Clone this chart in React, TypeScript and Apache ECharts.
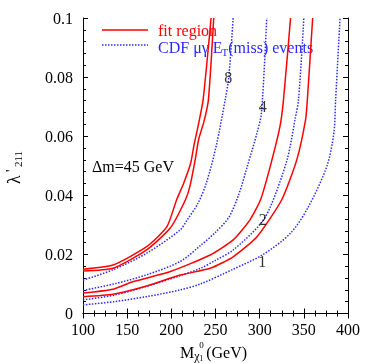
import React, { useEffect, useRef } from "react";
import * as echarts from "echarts";

// ---- data (mass in GeV, lambda'_211) ----
const fitA: [number, number][] = [
  [100, 0.0150], [134, 0.0164], [172, 0.0226], [195, 0.0294], [206, 0.0385], [214, 0.0441],
  [222, 0.0510], [226, 0.0575], [230, 0.0630], [236, 0.0724], [245, 0.1],
];
const fitB: [number, number][] = [
  [100, 0.0144], [134, 0.0153], [172, 0.0215], [199, 0.0290], [216, 0.0385], [221, 0.0430],
  [227, 0.0520], [231, 0.0590], [237, 0.0650], [242, 0.0724], [248, 0.1],
];
const fitC: [number, number][] = [
  [100, 0.0069], [134, 0.0082], [157, 0.0108], [199, 0.0142], [244, 0.0198], [270, 0.0249],
  [289, 0.0317], [301, 0.0385], [312, 0.0498], [323, 0.0633], [327, 0.0724], [335, 0.1],
];
const fitD: [number, number][] = [
  [100, 0.0057], [134, 0.0065], [172, 0.0093], [210, 0.0130], [244, 0.0153], [270, 0.0192],
  [297, 0.0260], [325, 0.0385], [342, 0.0520], [352, 0.0656], [354, 0.0724], [360, 0.1],
];
const cdf8: [number, number][] = [
  [100, 0.0113], [134, 0.0148], [172, 0.0204], [210, 0.0283], [218, 0.0317], [230, 0.0372],
  [240, 0.0445], [251, 0.0570], [261, 0.0724], [265, 0.080], [270, 0.1],
];
const cdf4: [number, number][] = [
  [100, 0.0078], [135, 0.0100], [172, 0.0131], [210, 0.0176], [233, 0.0230], [250, 0.0275],
  [265, 0.0325], [276, 0.0400], [286, 0.0498], [297, 0.0611], [302, 0.0679], [308, 0.1],
];
const cdf2: [number, number][] = [
  [100, 0.0046], [135, 0.0062], [170, 0.0090], [210, 0.0128], [233, 0.0153], [250, 0.0180],
  [270, 0.0215], [300, 0.0300], [312, 0.0360], [331, 0.0520], [340, 0.0656], [344, 0.0724], [350, 0.1],
];
const cdf1: [number, number][] = [
  [100, 0.0029], [135, 0.0040], [172, 0.0057], [210, 0.0080], [233, 0.0100], [270, 0.0150],
  [304, 0.0200], [335, 0.0272], [355, 0.0360], [376, 0.0498], [384, 0.0611], [386, 0.0724], [391, 0.1],
];
const contourLabels = ["8", "4", "2", "1"];
const contourLabelPos: [number, number][] = [[264.3, 0.080], [303.5, 0.0700], [303.5, 0.0318], [303, 0.0176]];

const SERIF = "Liberation Serif";
const RED = "#ff0000";
const BLUE = "#2a2aff";

function measure(text: string, size: number): number {
  const c = document.createElement("canvas").getContext("2d");
  if (!c) return text.length * size * 0.5;
  c.font = `${size}px "Liberation Serif"`;
  return c.measureText(text).width;
}

function txt(x: number, y: number, text: string, size: number, fill = "#000", lh?: number) {
  return {
    type: "text",
    x,
    y,
    silent: true,
    style: {
      text,
      fill,
      fontSize: size,
      fontFamily: SERIF,
      lineHeight: lh ?? size,
      align: "left",
      verticalAlign: "middle",
      textAlign: "left",
      textVerticalAlign: "middle",
    },
  };
}

export default function App() {
  const ref = useRef<HTMLDivElement>(null);
  useEffect(() => {
    if (!ref.current) return;
    const chart = echarts.init(ref.current, undefined, { renderer: "svg" });

    const axisCommon = {
      type: "value" as const,
      axisLine: { show: true, lineStyle: { color: "#000", width: 1 } },
      axisTick: { show: true, inside: true, length: 5, lineStyle: { color: "#000" } },
      minorTick: { show: true, length: 3, lineStyle: { color: "#000" } },
      splitLine: { show: false },
      minorSplitLine: { show: false },
    };

    const red = (name: string, data: [number, number][]) => ({
      type: "line",
      name,
      data,
      symbol: "none",
      smooth: 0.2,
      lineStyle: { color: RED, width: 1.5, type: "solid" },
      z: 3,
    });
    const blue = (name: string, data: [number, number][]) => ({
      type: "line",
      name,
      data,
      symbol: "none",
      smooth: 0.3,
      lineStyle: { color: BLUE, width: 1.5, type: "dotted" },
      z: 2,
    });

    const lg1 = "CDF μγ E";
    const w1 = measure(lg1, 16);
    const wT = measure("T", 11);
    const wM = measure("M", 16);

    const graphic: any[] = [
      { type: "line", silent: true, shape: { x1: 102, y1: 30, x2: 148, y2: 30 }, style: { stroke: RED, lineWidth: 1.5 } },
      txt(158, 30, "fit region", 16, RED, 13),
      { type: "line", silent: true, shape: { x1: 102, y1: 45, x2: 148, y2: 45 }, style: { stroke: BLUE, lineWidth: 1.5, lineDash: [1.5, 1.5] } },
      txt(158, 47, lg1, 16, BLUE, 13),
      txt(158 + w1 - 1, 52, "T", 11, BLUE, 9),
      txt(158 + w1 + wT - 1, 47, "(miss) events", 16, BLUE, 13),
      txt(92, 166, "Δm=45 GeV", 16, "#000"),
      // x axis title
      txt(180, 352, "M", 16, "#000"),
      txt(180 + wM, 356, "χ", 12, "#000"),
      txt(180 + wM + 5, 345, "0", 9, "#000"),
      txt(180 + wM + 5, 358, "1", 8, "#000"),
      txt(180 + wM + 12, 352, "(GeV)", 16, "#000"),
      // y axis title (rotated)
      {
        type: "group",
        x: 14,
        y: 184,
        rotation: Math.PI / 2,
        silent: true,
        children: [
          txt(0, 0, "λ", 18, "#000"),
          txt(12, -3, "'", 14, "#000"),
          txt(17, 4, "211", 11, "#000"),
        ],
      },
    ];

    chart.setOption({
      animation: false,
      textStyle: { fontFamily: SERIF },
      grid: { left: 83, right: 26, top: 18, bottom: 49.5, containLabel: false },
      xAxis: [
        {
          ...axisCommon,
          min: 100,
          max: 400,
          interval: 50,
          position: "bottom",
          minorTick: { ...axisCommon.minorTick, splitNumber: 4 },
          axisLabel: { show: true, color: "#000", fontSize: 16, fontFamily: SERIF, margin: 8 },
        },
        {
          ...axisCommon,
          min: 100,
          max: 400,
          interval: 50,
          position: "top",
          minorTick: { ...axisCommon.minorTick, splitNumber: 4 },
          axisLabel: { show: false },
        },
      ],
      yAxis: [
        {
          ...axisCommon,
          min: 0,
          max: 0.1,
          interval: 0.02,
          position: "left",
          minorTick: { ...axisCommon.minorTick, splitNumber: 5 },
          axisLabel: {
            show: true,
            color: "#000",
            fontSize: 16,
            fontFamily: SERIF,
            margin: 10,
            formatter: (v: number) => (v === 0 ? "0" : String(+v.toFixed(2))),
          },
        },
        {
          ...axisCommon,
          min: 0,
          max: 0.1,
          interval: 0.02,
          position: "right",
          minorTick: { ...axisCommon.minorTick, splitNumber: 5 },
          axisLabel: { show: false },
        },
      ],
      series: [
        red("fitA", fitA),
        red("fitB", fitB),
        red("fitC", fitC),
        red("fitD", fitD),
        blue("cdf8", cdf8),
        blue("cdf4", cdf4),
        blue("cdf2", cdf2),
        blue("cdf1", cdf1),
        {
          type: "scatter",
          name: "labels",
          symbolSize: 0,
          itemStyle: { color: "transparent" },
          data: contourLabelPos.map((p, i) => ({ value: p, name: contourLabels[i] })),
          label: {
            show: true,
            position: "inside",
            formatter: (p: any) => p.name,
            color: "#000",
            fontSize: 16,
            fontFamily: SERIF,
          },
          z: 5,
        },
      ],
      graphic,
    });
    return () => chart.dispose();
  }, []);
  return <div ref={ref} style={{ position: "fixed", left: 0, top: 0, width: 374, height: 363 }} />;
}
